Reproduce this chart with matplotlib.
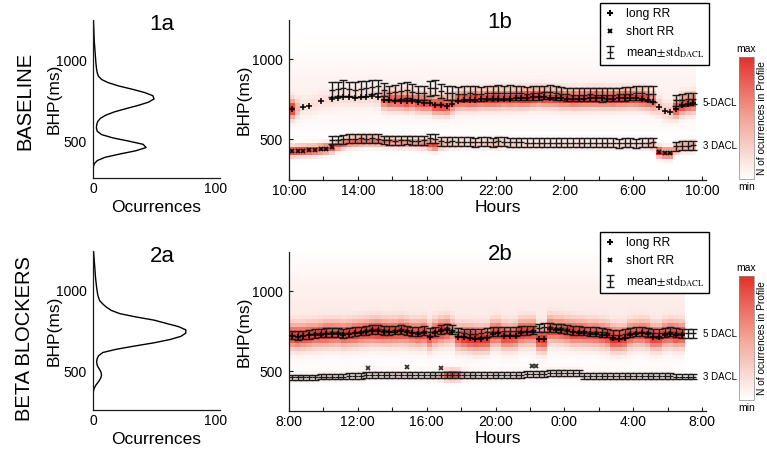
import numpy as np
import matplotlib
matplotlib.use('Agg')
import matplotlib.pyplot as plt
from matplotlib.colors import LinearSegmentedColormap
from matplotlib.lines import Line2D

plt.rcParams['font.family'] = ['Liberation Sans', 'DejaVu Sans']
plt.rcParams['mathtext.fontset'] = 'stix'

nan = np.nan
W, H = 767, 453

# ---- data -------------------------------------------------------------
# histograms of BHP (1a baseline, 2a beta blockers), bins every 20 ms from 300 ms
hist_1a = [0, 0.1, 0.3, 1.0, 3.6, 10, 22, 35, 43.5, 41, 29, 16, 7, 3.5, 2.8, 3,
           3.8, 6, 10.5, 17.5, 27, 37, 45.5, 50, 49, 42, 32, 21, 12.5, 7, 4.5, 3.5,
           3, 2.7, 2.4, 2.2, 2, 1.8, 1.6, 1.4, 1.2, 1.0, 0.9, 0.8, 0.7, 0.6, 0.5, 0.4]
hist_2a = [0, 0, 0, 0, 0.3, 1, 2.5, 4.5, 6.2, 7, 6.5, 5, 3.5, 3, 3.3, 4.5,
           8, 19, 34, 50, 63, 72, 76, 76, 70, 60, 50, 35, 22, 15, 11, 8,
           5.5, 4.5, 3.8, 3.4, 3, 2.7, 2.4, 2.1, 1.9, 1.7, 1.5, 1.3, 1.1, 0.9, 0.7, 0.5]
hist_bhp = np.arange(300, 300 + 20 * len(hist_1a), 20)

# 24 h profiles in 20 min slots (1b starts 10:00, 2b starts 8:00)
mean5_1b = [nan, nan, nan, nan, nan, nan, nan,
            808, 812, 818, 812, 808, 812, 818, 828, 830,
            808, 790, 792, 800, 806, 796, 788, 786,
            818, 822, 800, 790, 786, 782, 784, 786,
            784, 782, 786, 788, 790, 788, 790, 788,
            786, 784, 786, 788, 792, 794, 790, 784,
            780, 778, 776, 778, 780, 776, 774, 776,
            778, 780, 782, 784, 786, 788, 784, 780,
            nan, nan, nan, 742, 744, 748, 752, nan]
std5_1b = [nan, nan, nan, nan, nan, nan, nan,
           48, 46, 48, 46, 46, 48, 46, 44, 42,
           40, 44, 46, 50, 48, 46, 42, 44,
           46, 44, 46, 44, 44, 46, 46, 44,
           46, 46, 44, 46, 46, 44, 46, 44,
           44, 42, 44, 42, 42, 44, 44, 42,
           42, 42, 40, 42, 40, 40, 42, 40,
           40, 40, 42, 42, 44, 44, 46, 50,
           nan, nan, nan, 36, 36, 38, 36, nan]
mean3_1b = [nan, nan, nan, nan, nan, nan, nan,
            494, 494, 500, 502, 502, 504, 502, 504, 502,
            494, 492, 490, 492, 494, 490, 490, 492,
            504, 502, 486, 484, 486, 484, 484, 482,
            480, 482, 482, 480, 486, 484, 480, 480,
            480, 478, 478, 476, 478, 476, 476, 478,
            476, 476, 478, 476, 476, 478, 476, 476,
            476, 474, 476, 476, 474, 476, 478, 480,
            nan, nan, nan, 456, 458, 458, 460, nan]
std3_1b = 28
long_1b = [687, 690, 702, 706, 716, 737, 742, 752,
           758, 762, 760, 758, 760, 764, 766, 762,
           745, 742, 740, 740, 736, 738, 730, 728,
           726, 712, 712, 708, 722, 740, 744, 744,
           746, 748, 748, 750, 750, 752, 752, 754,
           754, 756, 760, 762, 760, 758, 756, 754,
           752, 750, 750, 752, 754, 756, 754, 752,
           752, 754, 756, 756, 754, 752, 746, 730,
           702, 675, 668, 690, 712, 720, 726, 730]
short_1b = [423, 426, 428, 430, 432, 436, 440, 448,
            462, 472, 480, 484, 486, 488, 488, 486,
            484, 482, 480, 478, 478, 476, 474, 472,
            466, 460, 466, 470, 472, 472, 472, 472,
            470, 470, 472, 472, 474, 472, 470, 470,
            470, 468, 468, 468, 468, 468, 466, 466,
            466, 466, 466, 466, 466, 466, 466, 466,
            466, 466, 466, 466, 466, 466, 468, 462,
            420, 412, 412, 440, 450, 452, 455, 455]
amp5_1b = [1.0, 0.35, 0.12, 0.12, 0.12, 0.12, 0.12, 0.14,
           0.14, 0.14, 0.14, 0.14, 0.16, 0.16, 0.18, 0.2,
           0.75, 0.85, 0.8, 0.85, 0.9, 0.8, 0.85, 0.9,
           0.85, 0.9, 0.95, 0.9, 0.75, 0.8, 0.85, 0.9,
           0.9, 0.85, 0.9, 0.95, 0.9, 0.85, 0.9, 0.9,
           0.95, 1.0, 0.95, 0.9, 0.95, 0.9, 0.9, 0.95,
           0.9, 0.95, 0.9, 0.9, 0.95, 1.0, 0.95, 0.9,
           0.95, 0.9, 0.95, 0.9, 0.9, 0.95, 0.9, 0.7,
           0.3, 0.25, 0.3, 0.9, 0.95, 0.9, 0.9, 0.0]
amp3_1b = [0.95, 0.95, 0.95, 0.95, 0.9, 0.95, 0.95, 0.9,
           0.85, 0.8, 0.75, 0.8, 0.75, 0.7, 0.75, 0.7,
           0.7, 0.65, 0.6, 0.65, 0.6, 0.6, 0.65, 0.7,
           0.85, 0.9, 0.5, 0.35, 0.3, 0.3, 0.25, 0.25,
           0.25, 0.25, 0.3, 0.35, 0.4, 0.3, 0.25, 0.25,
           0.2, 0.2, 0.2, 0.2, 0.2, 0.2, 0.2, 0.2,
           0.2, 0.2, 0.2, 0.2, 0.2, 0.2, 0.2, 0.2,
           0.2, 0.2, 0.2, 0.2, 0.2, 0.25, 0.3, 0.35,
           1.0, 1.0, 1.0, 0.55, 0.5, 0.5, 0.5, 0.0]
short_idx_1b = [0, 1, 2, 3, 4, 5, 6, 7, 64, 65, 66]
long_idx_1b = [0, 2, 3, 5, 7] + list(range(8, 71))

mean5_2b = [725, 721, 725, 729, 735, 737, 740, 742,
            742, 735, 740, 746, 750, 754, 760, 760,
            754, 752, 756, 760, 754, 746, 746, 752,
            744, 748, 760, 766, 758, 744, 738, 733,
            733, 737, 741, 746, 746, 750, 750, 748,
            752, 752, 756, 769, 773, 773, 769, 766,
            760, 752, 752, 750, 746, 746, 741, 737,
            727, 727, 733, 739, 746, 746, 741, 737,
            735, 739, 746, 739, 735, 735, 735, nan]
std5_2b = 27
mean3_2b = [460, 460, 460, 460, 460, 465, 465, 465,
            465, 465, 471, 471, 471, 477, 477, 477,
            475, 475, 475, 475, 475, 473, 473, 473,
            473, 473, 473, 475, 475, 475, 475, 473,
            473, 473, 473, 473, 475, 475, 475, 475,
            475, 479, 479, 479, 479, 487, 487, 487,
            487, 487, 487, 469, 469, 469, 469, 469,
            467, 467, 467, 467, 467, 471, 471, 471,
            471, 471, 471, 465, 465, 465, 465, nan]
std3_2b = 18
long_2b = [718, 715, 718, 722, 726, 728, 732, 734,
           734, 728, 732, 736, 740, 744, 748, 748,
           744, 742, 744, 748, 744, 736, 734, 738,
           714, 736, 748, 754, 746, 712, 710, 706,
           702, 702, 704, 734, 736, 718, 716, 720,
           740, 742, 744, 702, 700, 760, 756, 754,
           748, 742, 740, 738, 734, 734, 728, 722,
           704, 702, 706, 728, 734, 736, 730, 712,
           710, 728, 734, 728, 726, 724, 722, 720]
amp5_2b = [0.9, 0.95, 0.9, 0.9, 0.85, 0.9, 0.95, 0.9,
           0.85, 0.9, 0.9, 0.95, 0.9, 0.9, 0.95, 1.0,
           0.95, 0.9, 0.9, 0.95, 0.9, 0.85, 0.9, 0.9,
           0.85, 0.9, 0.95, 0.9, 0.6, 0.8, 0.95, 1.0,
           1.0, 0.95, 0.95, 0.9, 0.9, 0.95, 0.9, 0.9,
           0.95, 0.9, 0.9, 0.9, 0.95, 0.9, 0.85, 0.9,
           0.9, 0.95, 0.9, 0.9, 0.85, 0.9, 0.9, 0.95,
           1.0, 0.95, 0.9, 0.9, 0.85, 0.9, 0.95, 0.95,
           0.9, 0.9, 0.95, 1.0, 0.9, 0.0, 0.0, 0.0]
amp3_2b = [0.12, 0.12, 0.12, 0.12, 0.12, 0.12, 0.15, 0.15,
           0.12, 0.12, 0.12, 0.12, 0.15, 0.15, 0.15, 0.15,
           0.12, 0.12, 0.15, 0.15, 0.12, 0.12, 0.15, 0.15,
           0.15, 0.2, 0.35, 0.8, 1.0, 0.85, 0.3, 0.15,
           0.12, 0.12, 0.12, 0.12, 0.12, 0.12, 0.12, 0.12,
           0.12, 0.12, 0.12, 0.15, 0.15, 0.12, 0.12, 0.12,
           0.12, 0.12, 0.12, 0.12, 0.12, 0.12, 0.12, 0.12,
           0.12, 0.12, 0.12, 0.12, 0.12, 0.12, 0.12, 0.12,
           0.12, 0.12, 0.12, 0.1, 0.0, 0.0, 0.0, 0.0]
short_t_2b = [4.6, 6.85, 8.85, 14.1, 14.35]
short_v_2b = [521, 527, 521, 533, 533]
long_idx_2b = list(range(0, 69))

labels_1b = ['10:00', '14:00', '18:00', '22:00', '2:00', '6:00', '10:00']
labels_2b = ['8:00', '12:00', '16:00', '20:00', '0:00', '4:00', '8:00']

# ---- drawing ----------------------------------------------------------
fig = plt.figure(figsize=(W / 100, H / 100), dpi=100)
cmap = LinearSegmentedColormap.from_list('wr', ['#ffffff', '#f2a595', '#e3302a'])
ink = '#1c1c1c'


def px_rect(l, t, r, b):
    return [l / W, 1 - b / H, (r - l) / W, (b - t) / H]


def style_axes(ax):
    for s in ['top', 'right']:
        ax.spines[s].set_visible(False)
    for s in ['left', 'bottom']:
        ax.spines[s].set_color(ink)
        ax.spines[s].set_linewidth(0.9)


def hist_panel(rect, values, ylim):
    ax = fig.add_axes(px_rect(*rect))
    ax.plot(values, hist_bhp, color='k', lw=1.0)
    ax.set_xlim(0, 104)
    ax.set_ylim(*ylim)
    ax.set_xticks([0, 100])
    ax.set_yticks([500, 1000])
    style_axes(ax)
    ax.tick_params(axis='x', length=0, labelsize=10, pad=3)
    ax.tick_params(axis='y', length=0, labelsize=10, pad=4.5)
    ax.set_xlabel('Ocurrences', fontsize=12.5)
    ax.set_ylabel('BHP(ms)', fontsize=12.5)
    hgt = rect[3] - rect[1]
    ax.xaxis.set_label_coords(0.5, -22 / hgt)
    ax.yaxis.set_label_coords((62 - rect[0]) / (rect[2] - rect[0]), 0.5)
    return ax


def profile_panel(rect, ylim, long_rr, short_c, mean5, std5, mean3, std3,
                  amp5, amp3, w5, w3, haze, long_idx, ticklabels):
    ax = fig.add_axes(px_rect(*rect))
    t_edges = np.arange(len(amp5) + 1) / 3
    t = (np.arange(len(amp5)) + 0.5) / 3
    y_edges = np.arange(250, 1275, 25)
    yc = (y_edges[:-1] + y_edges[1:]) / 2
    a5 = np.array(amp5)
    a3 = np.array(amp3)
    c5 = np.array(long_rr)
    c3 = np.array(short_c)
    # density per 20-min column: a bump around each DACL level plus faint haze
    Z = (a5[None, :] * np.exp(-0.5 * ((yc[:, None] - c5[None, :]) / w5) ** 2)
         + a3[None, :] * np.exp(-0.5 * ((yc[:, None] - c3[None, :]) / w3) ** 2)
         + haze[0] * (a5[None, :] > 0) * np.exp(-0.5 * ((yc[:, None] - haze[1]) / haze[2]) ** 2))
    mesh = ax.pcolormesh(t_edges, y_edges, np.clip(Z, 0, 1), cmap=cmap,
                         vmin=0, vmax=1, shading='flat', zorder=0)

    style = dict(fmt='_', ms=4, mew=1.0, color=ink, ecolor=ink, elinewidth=1.0,
                 capsize=2.6, capthick=1.0, zorder=3)
    eb = ax.errorbar(t, mean5, yerr=std5, **style)
    ax.errorbar(t, mean3, yerr=std3, **style)
    ax.plot(t[long_idx], c5[long_idx], ls='none', marker='+', ms=4, mew=1.1,
            color='k', zorder=4)

    ax.set_xlim(0, 24.23)
    ax.set_ylim(*ylim)
    ax.set_xticks(np.arange(0, 25, 4))
    ax.set_xticklabels(ticklabels)
    ax.set_xticks(np.arange(2, 24, 4), minor=True)
    ax.set_yticks([500, 1000])
    style_axes(ax)
    ax.tick_params(which='both', direction='in', length=3, width=0.8, color=ink)
    ax.tick_params(axis='x', labelsize=10, pad=3)
    ax.tick_params(axis='y', labelsize=10, pad=4.5)
    ax.set_xlabel('Hours', fontsize=12.5)
    ax.set_ylabel('BHP(ms)', fontsize=12.5)
    hgt = rect[3] - rect[1]
    ax.xaxis.set_label_coords(0.5, -20 / hgt)
    ax.yaxis.set_label_coords((252 - rect[0]) / (rect[2] - rect[0]), 0.5)
    return ax, mesh, eb, t


def add_legend(ax, eb, top):
    h_long = Line2D([], [], ls='none', marker='+', ms=5, mew=1.5, color='k')
    h_short = Line2D([], [], ls='none', marker='x', ms=3, mew=1.4, color='k')
    leg = ax.legend([h_long, h_short, eb],
                    ['long RR', 'short RR', r'mean$\pm\mathrm{std}_{\mathrm{DACL}}$'],
                    loc='upper left', bbox_to_anchor=(600 / W, 1 - top / H),
                    bbox_transform=fig.transFigure, borderaxespad=0,
                    fontsize=8.8, frameon=True, fancybox=False, framealpha=1,
                    handlelength=0.8, handletextpad=0.9, borderpad=0.4,
                    labelspacing=0.5)
    leg.get_frame().set_edgecolor('k')
    leg.get_frame().set_linewidth(1.0)
    leg.set_zorder(10)


# 1a / 2a
hist_panel((93, 20, 220, 178), hist_1a, (272, 1247))
hist_panel((93, 251, 220, 410), hist_2a, (265, 1247))

# 1b
ax1, mesh1, eb1, t = profile_panel(
    (289, 20, 706, 180), (244, 1244), long_1b, short_1b, mean5_1b, std5_1b,
    mean3_1b, std3_1b, amp5_1b, amp3_1b, 38, 22, (0.07, 800, 150),
    long_idx_1b, labels_1b)
ax1.plot(t[short_idx_1b], np.array(short_1b)[short_idx_1b], ls='none', marker='x',
         ms=2.2, mew=1.3, color='#111111', zorder=4)
ax1.text(24.05, 725, '5-DACL', fontsize=7, va='center', ha='left', clip_on=False)
ax1.text(24.05, 456, '3 DACL', fontsize=7, va='center', ha='left', clip_on=False)
add_legend(ax1, eb1, 3)

# 2b
ax2, mesh2, eb2, t = profile_panel(
    (289, 252, 706, 411), (250, 1244), long_2b, mean3_2b, mean5_2b, std5_2b,
    mean3_2b, std3_2b, amp5_2b, amp3_2b, 50, 22, (0.1, 880, 190),
    long_idx_2b, labels_2b)
ax2.plot(short_t_2b, short_v_2b, ls='none', marker='x', ms=2.5, mew=1.3,
         color='#333333', zorder=4)
ax2.text(24.05, 731, '5 DACL', fontsize=7, va='center', ha='left', clip_on=False)
ax2.text(24.05, 462, '3 DACL', fontsize=7, va='center', ha='left', clip_on=False)
add_legend(ax2, eb2, 232)

# colorbars
for mesh, (top, bot) in [(mesh1, (57, 179)), (mesh2, (276, 400))]:
    cax = fig.add_axes(px_rect(739, top, 754, bot))
    cb = fig.colorbar(mesh, cax=cax, ticks=[])
    cb.outline.set_linewidth(0.5)
    cb.outline.set_edgecolor('#888888')
    fig.text(746.5 / W, 1 - (top - 8) / H, 'max', fontsize=7.5, ha='center', va='center')
    fig.text(746.5 / W, 1 - (bot + 8) / H, 'min', fontsize=7.5, ha='center', va='center')
    fig.text(762 / W, 1 - (top + bot) / 2 / H, 'N of ocurrences in Profile', fontsize=7.3,
             rotation=90, ha='center', va='center')

# panel titles and row labels
for txt, x, y in [('1a', 162, 25), ('1b', 500, 23), ('2a', 162, 256), ('2b', 500, 255)]:
    fig.text(x / W, 1 - y / H, txt, fontsize=16, ha='center', va='center')
fig.text(25 / W, 1 - 101 / H, 'BASELINE', fontsize=14.5, rotation=90,
         ha='center', va='center')
fig.text(25 / W, 1 - 339 / H, 'BETA BLOCKERS', fontsize=14.5, rotation=90,
         ha='center', va='center')

fig.savefig('out.png', dpi=100)
